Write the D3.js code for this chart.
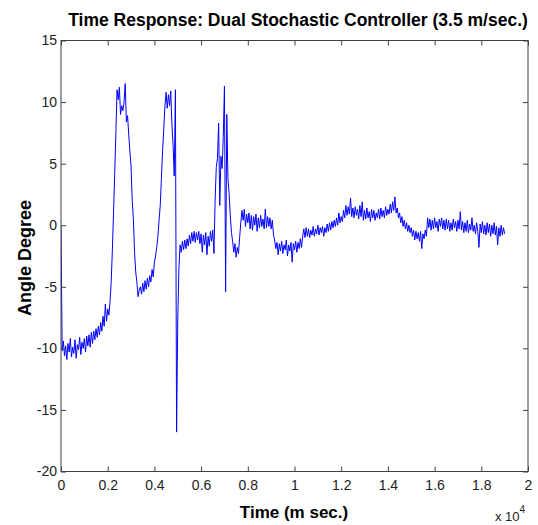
<!DOCTYPE html>
<html><head><meta charset="utf-8">
<script src="https://cdn.jsdelivr.net/npm/d3@7"></script>
<style>body{margin:0;background:#fff}svg{display:block}</style>
</head><body><svg id="c" width="538" height="525"></svg>
<script>
// ---- data ----
const chartTitle = "Time Response: Dual Stochastic Controller (3.5 m/sec.)";
const xLabel = "Time (m sec.)";
const yLabel = "Angle Degree";
const xTicks = [0, 2000, 4000, 6000, 8000, 10000, 12000, 14000, 16000, 18000, 20000];
const xTickLabels = ["0", "0.2", "0.4", "0.6", "0.8", "1", "1.2", "1.4", "1.6", "1.8", "2"];
const yTicks = [15, 10, 5, 0, -5, -10, -15, -20];
const xExponentBase = "x 10";
const xExponent = "4";
const sampleStartMs = 0;
const sampleStepMs = 50;
// angle (degrees), one value per sample, 0 – 4850 ms
const angleSeg1 = [
  0, -10.2, -9.4, -10.6, -9.8, -10.9, -9.6, -10.3, -9.2, -10.7,
  -9.9, -10.4, -9.3, -10.8, -9.7, -10.1, -9.1, -10.5, -9.5, -10.0,
  -9.2, -10.3, -9.0, -9.8, -8.9, -9.9, -8.7, -9.6, -8.6, -9.3,
  -8.4, -9.1, -8.2, -8.9, -7.9, -8.6, -7.4, -8.2, -6.4, -7.8,
  -6.8, -7.3, -6.2, -4.6, -2.0, 1.0, 4.2, 7.5, 11.0, 10.2,
  11.2, 9.0, 9.7, 9.3, 10.0, 11.5, 8.4, 8.9, 7.4, 6.0,
  4.8, 2.0, 0.5, -2.2, -3.8, -4.6, -5.8, -5.3,
  -5.0, -5.6, -4.7, -5.4, -4.5, -5.2, -4.3, -5.0, -4.1, -4.6,
  -3.6, -4.2, -3.0, -2.5, -1.8, -0.9, 0.4, 1.6, 3.8, 6.0,
  7.8, 9.6, 10.8, 9.5, 10.6, 9.7, 10.9, 8.2, 6.5, 4.0
];
// 4900 – 10450 ms
const angleSeg2 = [
  11.0, -16.8, -7.7, -3.5, -1.6, -2.2, -1.3, -2.0, -1.2, -1.9,
  -1.1, -1.7, -0.8, -1.5, -0.6, -1.3, -0.5, -1.4, -0.6, -1.2,
  -0.5, -1.5, -0.7, -2.2, -0.8, -1.6, -0.6, -2.4, -0.9, -1.7,
  -0.5, -1.3, -0.4,
  -2.3, 2.0, 4.7, 5.4, 8.3, 1.6, 5.6, 4.6, 7.2, 11.3,
  -5.4, 9.0, 3.8, 2.6, 0.8, -0.6, -1.3, -2.2, -1.5, -2.6,
  -1.8, -2.3, -1.0, 0.2, 1.2, 0.4, 1.3, -0.1, 0.9, 0.2,
  1.0, -0.3, 0.8, -0.4, 0.7, 0.0, 0.9, -0.5, 0.6, -0.2,
  0.8, -0.1, 0.5, -0.3, 1.3, -0.2, 0.7, -0.1, 0.6, -0.3,
  0.4, -0.8, -1.2, -1.9, -1.4, -2.4, -1.5, -2.1, -1.3, -2.3,
  -1.6, -2.0, -1.2, -2.5, -1.6, -2.1, -1.4, -3.0, -1.5, -2.0,
  -1.3, -2.2, -1.4, -1.9, -1.1, -1.8, -0.9, -0.3, -1.0
];
// 10500 – 19000 ms
const angleSeg3 = [
  -0.2, -0.9, -0.3, -1.0, -0.4, -0.8, -0.1, -0.9, -0.3, -0.7,
  0.0, -0.8, -0.2, -0.6, -0.1, -0.9, -0.2, -0.6, 0.1, -0.5,
  0.2, -0.4, 0.3, -0.2,
  0.4, -0.1, 0.6, 0.0, 1.0, 0.2, 0.7, 0.3, 1.2, 0.6,
  1.6, 0.8, 1.5, 0.9, 2.2, 0.7, 1.4, 0.6, 1.5, 0.8,
  1.3, 0.5, 1.6, 0.7, 1.9, 0.4, 1.2, 0.5, 1.4, 0.6,
  1.1, 0.3, 1.3, 0.6, 1.2, 0.4, 1.0, 0.6, 1.3, 0.5,
  1.4, 0.7, 1.2, 0.6, 1.5, 0.8, 1.3, 0.9, 1.7, 1.0,
  1.9, 1.2, 2.3, 1.0,
  1.4, 0.6, 1.0, 0.2, 0.7, -0.1, 0.4, -0.3, 0.2, -0.5,
  0.0, -0.6, -0.2, -0.9, -0.4, -1.2, -0.5, -1.1, -0.6, -1.3,
  -0.5, -1.9, -0.7, -1.1, -0.4, -0.9,
  0.6, -0.2, 0.5, -0.4, 0.4, -0.3, 0.6, -0.2, 0.3, -0.5,
  0.5, -0.1, 0.6, -0.3, 0.4, -0.4, 0.5, -0.3, 0.4, -0.5,
  0.2, -0.4, 0.5, -0.2, 0.3, -0.5, 0.4, -0.3, 1.1, -0.4,
  0.3, -0.6, 0.2, -0.5, 0.4, -0.6, 0.1, -0.4, 0.6, -0.5,
  0.0, -0.7, 0.2, -0.5, -1.8, 0.1, -0.6, 0.3, -0.7, 0.0,
  -0.8, 0.2, -0.6, 0.1, -0.9, 0.0, -0.7, 0.2, -0.8, -0.1,
  -1.6, -0.2, -0.9, 0.0, -0.8, -0.2, -0.7
];

// ---- layout ----
const W = 538, H = 525;
const plot = {left: 61, top: 40.5, right: 528, bottom: 471.5};
const axisColor = "#404040";
const lineColor = "#0000ff";

const angle = angleSeg1.concat(angleSeg2, angleSeg3);
const series = angle.map((v, i) => ({t: sampleStartMs + i * sampleStepMs, v}));

const svg = d3.select("#c");
svg.append("rect").attr("width", W).attr("height", H).attr("fill", "#fff");

const x = d3.scaleLinear().domain([0, 20000]).range([plot.left, plot.right]);
const y = d3.scaleLinear().domain([-20, 15]).range([plot.bottom, plot.top]);

// data line (clipped to plot)
svg.append("clipPath").attr("id", "clip").append("rect")
  .attr("x", plot.left).attr("y", plot.top)
  .attr("width", plot.right - plot.left).attr("height", plot.bottom - plot.top);

svg.append("path")
  .datum(series)
  .attr("clip-path", "url(#clip)")
  .attr("fill", "none")
  .attr("stroke", lineColor)
  .attr("stroke-width", 1)
  .attr("stroke-linejoin", "miter")
  .attr("d", d3.line().x(d => x(d.t)).y(d => y(d.v)));

const tickFont = "'Liberation Sans', Arial, sans-serif";

// bottom axis
const gB = svg.append("g").attr("transform", `translate(0,${plot.bottom})`)
  .call(d3.axisBottom(x).tickValues(xTicks).tickFormat((d, i) => xTickLabels[i]).tickSize(-5).tickPadding(9));
// top axis
const gT = svg.append("g").attr("transform", `translate(0,${plot.top})`)
  .call(d3.axisTop(x).tickValues(xTicks).tickFormat("").tickSize(-5));
// left axis
const gL = svg.append("g").attr("transform", `translate(${plot.left},0)`)
  .call(d3.axisLeft(y).tickValues(yTicks).tickFormat(d3.format("d")).tickSize(-5).tickPadding(4));
// right axis
const gR = svg.append("g").attr("transform", `translate(${plot.right},0)`)
  .call(d3.axisRight(y).tickValues(yTicks).tickFormat("").tickSize(-5));

[gB, gT, gL, gR].forEach(g => {
  g.select(".domain").remove();
  g.selectAll(".tick line").attr("stroke", axisColor);
  g.selectAll(".tick text").attr("fill", "#222").attr("font-family", tickFont).attr("font-size", 14);
});
gL.selectAll(".tick text").text(d => d < 0 ? "-" + Math.abs(d) : d);

// box
svg.append("rect")
  .attr("x", plot.left).attr("y", plot.top)
  .attr("width", plot.right - plot.left).attr("height", plot.bottom - plot.top)
  .attr("fill", "none").attr("stroke", axisColor).attr("stroke-width", 1);

// title
svg.append("text")
  .attr("x", 298).attr("y", 26)
  .attr("text-anchor", "middle")
  .attr("font-family", tickFont).attr("font-weight", "bold").attr("font-size", 17.5)
  .attr("fill", "#000")
  .text(chartTitle);

// x label
svg.append("text")
  .attr("x", 294).attr("y", 518)
  .attr("text-anchor", "middle")
  .attr("font-family", tickFont).attr("font-weight", "bold").attr("font-size", 17)
  .attr("fill", "#000")
  .text(xLabel);

// y label
svg.append("text")
  .attr("transform", `translate(31,258) rotate(-90)`)
  .attr("text-anchor", "middle")
  .attr("font-family", tickFont).attr("font-weight", "bold").attr("font-size", 18)
  .attr("fill", "#000")
  .text(yLabel);

// exponent
const ex = svg.append("text")
  .attr("x", 495).attr("y", 521)
  .attr("font-family", tickFont).attr("font-size", 13)
  .attr("fill", "#222");
ex.append("tspan").text(xExponentBase);
ex.append("tspan").attr("dy", -8).attr("font-size", 10).text(xExponent);
</script>
</body></html>
